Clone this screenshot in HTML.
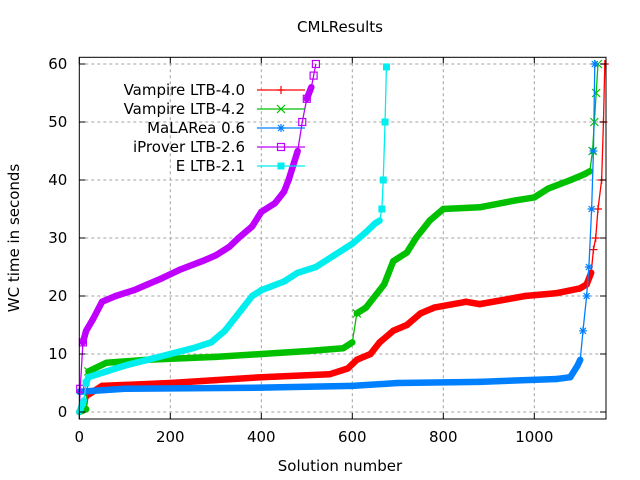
<!DOCTYPE html>
<html><head><meta charset="utf-8"><style>
body{margin:0;background:#fff}
svg{display:block;font-family:"DejaVu Sans","Liberation Sans",sans-serif}
</style></head><body>
<svg id="chart" width="640" height="480" viewBox="0 0 640 480">
<rect width="640" height="480" fill="#fff"/>
<text x="340" y="32" font-size="15" text-anchor="middle">CMLResults</text>
<text x="340" y="471" font-size="15" text-anchor="middle">Solution number</text>
<text transform="translate(19,238) rotate(-90)" font-size="15" text-anchor="middle">WC time in seconds</text>
<g id="grid"></g><g id="series"></g><g id="axes"></g><g id="legend"></g>
</svg>
<script>
const xTicks=[0,200,400,600,800,1000];
const yTicks=[0,10,20,30,40,50,60];
const seriesNames=["Vampire LTB-4.0","Vampire LTB-4.2","MaLARea 0.6","iProver LTB-2.6","E LTB-2.1"];
const seriesColors=["#ff0000","#00c000","#0080ff","#c000ff","#00eeee"];
const seriesMarkers=["plus","cross","star","box","fbox"];
const vamp40X=[0,15,20,50,200,300,400,550,590,610,640,660,690,720,750,780,850,880,980,1050,1100,1115,1125,1130,1135,1140,1148,1152,1155];
const vamp40Y=[0,0.5,3,4.5,5,5.5,6,6.5,7.5,9,10,12,14,15,17,18,19,18.6,20,20.5,21.3,22,24,28,30,35,40,50,60];
const vamp42X=[0,15,20,60,150,300,400,500,580,600,610,630,660,670,690,720,740,770,800,880,960,1000,1030,1080,1110,1122,1128,1132,1136,1140];
const vamp42Y=[0,0.5,7,8.5,9,9.5,10,10.5,11,12,17,18,21,22,26,27.5,30,33,35,35.3,36.5,37,38.5,40,41,41.5,45,50,55,60];
const malX=[0,100,400,600,700,880,1050,1079,1095,1101,1107,1115,1120,1126,1130,1133];
const malY=[3.5,4,4.2,4.5,5,5.2,5.7,6,8,9,14,20,25,35,45,60];
const iprX=[0,2,8,15,30,50,80,120,150,180,220,270,300,330,350,380,400,430,450,460,480,490,500,510,515,520];
const iprY=[0,4,12,14,16,19,20,21,22,23,24.5,26,27,28.5,30,32,34.5,36,38,40,45,50,54,56,58,60];
const eX=[0,10,15,20,60,100,150,200,250,290,320,340,360,380,400,450,480,520,560,600,630,650,660,665,668,672,675];
const eY=[0,2,5,6,7,8,9,10,11,12,14,16,18,20,21,22.5,24,25,27,29,31,32.5,33,35,40,50,59.5];
const allX=[vamp40X,vamp42X,malX,iprX,eX], allY=[vamp40Y,vamp42Y,malY,iprY,eY];

const L=79.3,R=606,T=57.3,B=419;
const xs=v=>L+v*0.455;
const ys=v=>412-v*5.8;
const NS="http://www.w3.org/2000/svg";
function mk(tag,attrs,parent){const e=document.createElementNS(NS,tag);for(const k in attrs)e.setAttribute(k,attrs[k]);parent.appendChild(e);return e;}
const grid=document.getElementById('grid'),axes=document.getElementById('axes'),ser=document.getElementById('series'),leg=document.getElementById('legend');

xTicks.forEach(t=>{const x=xs(t);
 if(t>0){const g=mk('line',{x1:x,x2:x,y1:T,y2:B,stroke:'#a0a0a0','stroke-dasharray':'3,3'},grid);
 
 }
 mk('line',{x1:x,x2:x,y1:B,y2:B-6,stroke:'#000'},axes);mk('line',{x1:x,x2:x,y1:T,y2:T+6,stroke:'#000'},axes);
 const tx=mk('text',{x:x,y:B+23,'font-size':15,'text-anchor':'middle'},axes);tx.textContent=t;
 
 
});
yTicks.forEach(t=>{const y=ys(t);
 const g=mk('line',{x1:L,x2:R,y1:y,y2:y,stroke:'#a0a0a0','stroke-dasharray':'3,3'},grid);
 
 
 mk('line',{x1:L,x2:L+6,y1:y,y2:y,stroke:'#000'},axes);mk('line',{x1:R,x2:R-6,y1:y,y2:y,stroke:'#000'},axes);
 const tx=mk('text',{x:L-12,y:y+5,'font-size':15,'text-anchor':'end'},axes);tx.textContent=t;
 
 
});
const fr=mk('rect',{x:L,y:T,width:R-L,height:B-T,fill:'none',stroke:'#000','stroke-width':1},axes);



function marker(type,x,y,c,p){
 const s=4;
 if(type==='plus'){mk('path',{d:`M${x-s} ${y}H${x+s}M${x} ${y-s}V${y+s}`,stroke:c,'stroke-width':1.2,fill:'none'},p);}
 else if(type==='cross'){mk('path',{d:`M${x-s} ${y-s}L${x+s} ${y+s}M${x-s} ${y+s}L${x+s} ${y-s}`,stroke:c,'stroke-width':1.2,fill:'none'},p);}
 else if(type==='star'){mk('path',{d:`M${x-s} ${y}H${x+s}M${x} ${y-s}V${y+s}M${x-3} ${y-3}L${x+3} ${y+3}M${x-3} ${y+3}L${x+3} ${y-3}`,stroke:c,'stroke-width':1.2,fill:'none'},p);}
 else if(type==='box'){mk('rect',{x:x-3.5,y:y-3.5,width:7,height:7,stroke:c,'stroke-width':1.2,fill:'none'},p);}
 else {mk('rect',{x:x-3.5,y:y-3.5,width:7,height:7,fill:c},p);}
}
allX.forEach((X,i)=>{
 const Y=allY[i],c=seriesColors[i];
 const g=mk('g',{},ser);
 
 
 const pts=X.map((v,k)=>[xs(v),ys(Y[k])]);
 mk('polyline',{points:pts.map(p=>p.join(',')).join(' '),fill:'none',stroke:c,'stroke-width':1.3},g);
 for(let k=1;k<pts.length;k++){
  const dx=pts[k][0]-pts[k-1][0],dy=Math.abs(pts[k][1]-pts[k-1][1]);
  if(dy<dx*5) mk('line',{x1:pts[k-1][0],y1:pts[k-1][1],x2:pts[k][0],y2:pts[k][1],stroke:c,'stroke-width':6.5,'stroke-linecap':'round'},g);
  else marker(seriesMarkers[i],pts[k][0],pts[k][1],c,g);
 }
});
seriesNames.forEach((n,i)=>{
 const y=90+i*19;
 const g=mk('g',{},leg);
 
 
 const t=mk('text',{x:245,y:y+5,'font-size':15,'text-anchor':'end'},g);t.textContent=n;
 mk('line',{x1:257,x2:305,y1:y,y2:y,stroke:seriesColors[i],'stroke-width':1.3},g);
 marker(seriesMarkers[i],281,y,seriesColors[i],g);
});
</script>
</body></html>
